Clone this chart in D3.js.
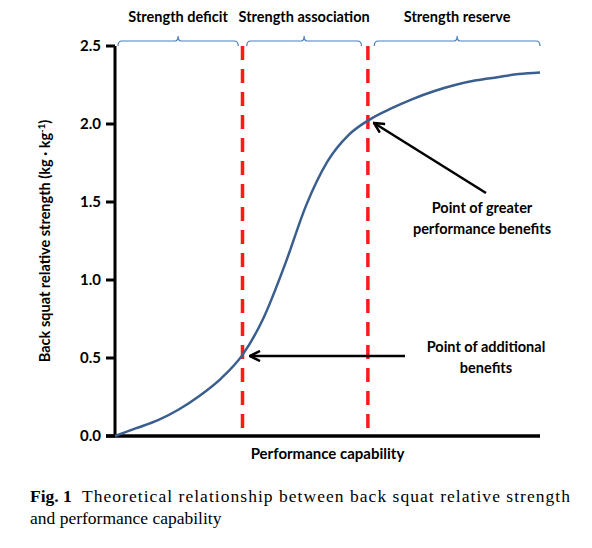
<!DOCTYPE html><html><head><meta charset="utf-8">
<script src="https://cdn.jsdelivr.net/npm/d3@7"></script>
<style>body{margin:0;background:#fff}</style></head><body>
<svg id="c" width="592" height="548"></svg>
<script>
const perf = [0,5,10,15,20,25,30,35,40,45,50,55,60,65,70,75,80,85,90,95,100];
const strength = [0,0.05,0.1,0.17,0.26,0.37,0.52,0.76,1.1,1.48,1.76,1.93,2.03,2.1,2.16,2.21,2.25,2.28,2.3,2.32,2.33];
const yTicks = [0,0.5,1.0,1.5,2.0,2.5];
const thresholds = [30,59.5];
const zones = [{name:"Strength deficit",a:0.7,b:29},{name:"Strength association",a:31,b:58},{name:"Strength reserve",a:61,b:100}];

const svg = d3.select("#c");
const x = d3.scaleLinear().domain([0,100]).range([115,540]);
const y = d3.scaleLinear().domain([0,2.5]).range([436,46]);
const bold = "Lato, 'Open Sans', sans-serif";

zones.forEach(z=>{
  const x0=x(z.a), x1=x(z.b), xm=(x0+x1)/2, yb=41;
  svg.append("path").attr("d",`M${x0},${yb+5} Q${x0},${yb} ${x0+4},${yb} L${xm-3},${yb} Q${xm},${yb} ${xm},${yb-5} Q${xm},${yb} ${xm+3},${yb} L${x1-4},${yb} Q${x1},${yb} ${x1},${yb+5}`)
    .attr("fill","none").attr("stroke","#4a7ebb").attr("stroke-width",1.2);
  svg.append("text").attr("x",xm).attr("y",22).attr("text-anchor","middle")
    .attr("font-family",bold).attr("font-weight","bold").attr("font-size",14.5).text(z.name);
});

thresholds.forEach(t=>svg.append("line").attr("x1",x(t)).attr("x2",x(t)).attr("y1",46).attr("y2",436)
  .attr("stroke","#ff1a1a").attr("stroke-width",3.5).attr("stroke-dasharray","14,9"));

svg.append("line").attr("x1",x(0)).attr("x2",x(0)).attr("y1",y(2.5)).attr("y2",y(0)).attr("stroke","#000").attr("stroke-width",3);
svg.append("line").attr("x1",x(0)-9).attr("x2",x(100)).attr("y1",y(0)).attr("y2",y(0)).attr("stroke","#000").attr("stroke-width",3.5);
yTicks.forEach(t=>{
  svg.append("line").attr("x1",x(0)-9).attr("x2",x(0)).attr("y1",y(t)).attr("y2",y(t)).attr("stroke","#000").attr("stroke-width",3);
  svg.append("text").attr("x",x(0)-14).attr("y",y(t)+5).attr("text-anchor","end").attr("font-family",bold)
    .attr("font-weight","bold").attr("font-size",15).text(t.toFixed(1));
});
svg.append("text").attr("x",(x(0)+x(100))/2).attr("y",459).attr("text-anchor","middle").attr("font-family",bold)
  .attr("font-weight","bold").attr("font-size",15).text("Performance capability");
const yl = svg.append("text").attr("transform",`translate(50,${y(1.25)}) rotate(-90)`).attr("text-anchor","middle")
  .attr("font-family",bold).attr("font-weight","bold").attr("font-size",14.5);
yl.append("tspan").text("Back squat relative strength (kg · kg");
yl.append("tspan").attr("dy",-5).attr("font-size",9.5).text("-1");
yl.append("tspan").attr("dy",5).text(")");

svg.append("path").datum(perf.map((p,i)=>[p,strength[i]]))
  .attr("d",d3.line().x(d=>x(d[0])).y(d=>y(d[1])).curve(d3.curveMonotoneX))
  .attr("fill","none").attr("stroke","#3a5f8f").attr("stroke-width",2.5);

svg.append("defs").append("marker").attr("id","ah").attr("viewBox","0 0 10 10").attr("refX",9).attr("refY",5)
  .attr("markerWidth",5).attr("markerHeight",5).attr("orient","auto")
  .append("path").attr("d","M1,1 L9,5 L1,9").attr("fill","none").attr("stroke","#000").attr("stroke-width",2);
svg.append("line").attr("x1",486).attr("y1",193).attr("x2",374).attr("y2",123).attr("stroke","#000").attr("stroke-width",2.5).attr("marker-end","url(#ah)");
svg.append("line").attr("x1",405).attr("y1",356).attr("x2",250).attr("y2",356).attr("stroke","#000").attr("stroke-width",2.5).attr("marker-end","url(#ah)");
[["Point of greater",482,213],["performance benefits",482,234],["Point of additional",486,352],["benefits",486,373]].forEach(d=>
  svg.append("text").attr("x",d[1]).attr("y",d[2]).attr("text-anchor","middle").attr("font-family",bold)
   .attr("font-weight","bold").attr("font-size",14.5).text(d[0]));

const cap = svg.append("text").attr("font-family","'Liberation Serif', serif").attr("font-size",17.5);
cap.append("tspan").attr("x",30).attr("y",502).attr("font-weight","bold").text("Fig. 1");
cap.append("tspan").attr("x",82).attr("textLength",488).attr("lengthAdjust","spacing").text("Theoretical relationship between back squat relative strength");
svg.append("text").attr("font-family","'Liberation Serif', serif").attr("font-size",17.5).attr("x",30).attr("y",524).text("and performance capability");
</script></body></html>
